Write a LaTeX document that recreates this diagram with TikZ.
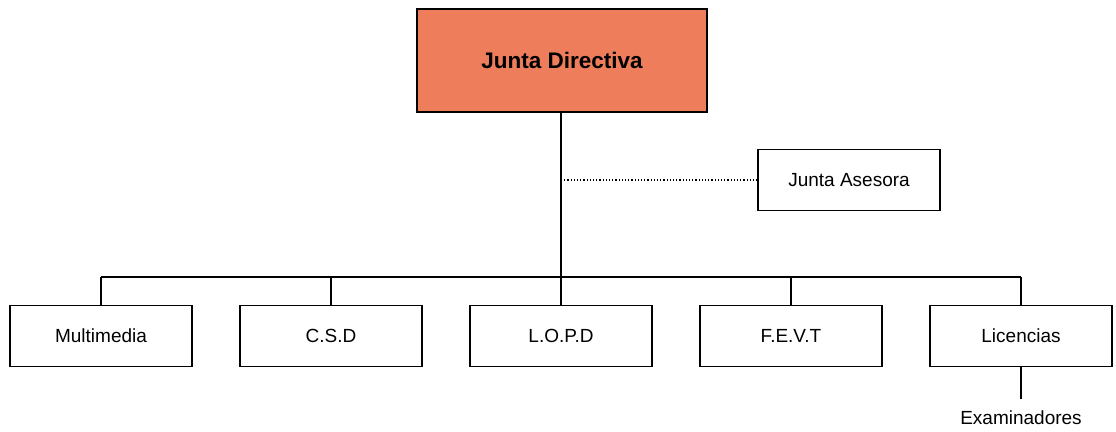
\documentclass[tikz,border=0pt]{standalone}
\usepackage{fontspec}
\setmainfont{Liberation Sans}
\definecolor{jdorange}{RGB}{237,125,91}
\begin{document}
\begin{tikzpicture}[x=1pt,y=-1pt,
  box/.style={draw=black,line width=1.8pt,minimum width=182pt,minimum height=61pt,inner sep=0pt,font=\fontsize{19}{22}\selectfont},
  conn/.style={line width=1.8pt}]
\useasboundingbox (0,0) rectangle (1116,431);
\node[box,fill=jdorange,minimum width=290pt,minimum height=103pt,font=\fontsize{22.5}{26}\selectfont\bfseries] (jd) at (562,60.5) {Junta Directiva};
\node[box] (ja) at (849,180) {Junta Asesora};
\node[box] (mm) at (101,336) {Multimedia};
\node[box] (csd) at (331,336) {C.S.D};
\node[box] (lopd) at (561,336) {L.O.P.D};
\node[box] (fevt) at (791,336) {F.E.V.T};
\node[box] (lic) at (1021,336) {Licencias};
\node[font=\fontsize{19}{22}\selectfont,inner sep=0pt] (ex) at (1021,418) {Examinadores};
\coordinate (busL) at (101,277);
\coordinate (busR) at (1021,277);
\coordinate (jm) at (561,180);
\draw[conn] (jd.south -| lopd.north) -- (lopd.north);
\draw[conn] (busL) -- (busR);
\draw[conn] (busL) -- (mm.north);
\draw[conn] (csd.north |- busL) -- (csd.north);
\draw[conn] (fevt.north |- busL) -- (fevt.north);
\draw[conn] (busR) -- (lic.north);
\draw[line width=1.2pt,dotted] (jm) -- (ja.west);
\coordinate (exTop) at (1021,399);
\draw[conn] (lic.south) -- (exTop);
\end{tikzpicture}
\end{document}
